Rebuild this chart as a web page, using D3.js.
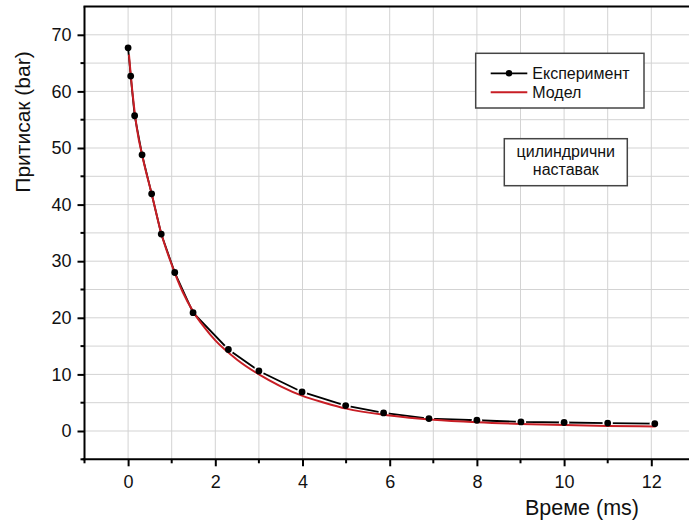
<!doctype html>
<html lang="sr">
<head>
  <meta charset="utf-8">
  <title>Притисак</title>
  <script src="https://cdn.jsdelivr.net/npm/d3@7"></script>
  <style>
    html, body { margin: 0; padding: 0; background: #fff; }
    svg { display: block; }
    text { font-family: "Liberation Sans", Arial, sans-serif; fill: #111; }
    .grid line { stroke: #d3d3d3; stroke-width: 1px; }
    .axis path, .axis line { stroke: #000; }
  </style>
</head>
<body>
<div id="chart"></div>
<script>
// measured data (time in ms, pressure in bar)
var expTime  = [0, 0.06, 0.15, 0.32, 0.54, 0.76, 1.07, 1.49, 2.3, 3.0, 3.99, 4.99, 5.86, 6.9, 8.0, 9.01, 10.0, 11.0, 12.08];
var expPress = [67.7, 62.7, 55.7, 48.8, 41.9, 34.8, 28.0, 20.9, 14.4, 10.6, 6.9, 4.5, 3.2, 2.2, 1.9, 1.6, 1.5, 1.4, 1.3];

// model curve
var modelTime  = [0.02, 0.1, 0.2, 0.35, 0.55, 0.75, 1.0, 1.25, 1.5, 1.75, 2.0, 2.5, 3.0, 3.5, 4.0, 4.5, 5.0, 6.0, 7.0, 8.0, 9.0, 10.0, 11.0, 12.1];
var modelPress = [66.5, 59.8, 53.5, 47.8, 41.6, 35.2, 29.4, 24.6, 21.0, 18.3, 16.0, 12.6, 10.0, 7.9, 6.2, 5.0, 3.95, 2.75, 2.0, 1.55, 1.25, 1.05, 0.9, 0.8];

var xMajor = [0, 2, 4, 6, 8, 10, 12];
var xMinor = [-1, 1, 3, 5, 7, 9, 11, 13];
var yMajor = [0, 10, 20, 30, 40, 50, 60, 70];
var yMinor = [-5, 5, 15, 25, 35, 45, 55, 65];

var seriesNames = ["Експеримент", "Модел"];
var noteLines = ["цилиндрични", "наставак"];
var xTitle = "Време (ms)";
var yTitle = "Притисак (bar)";

var width = 689, height = 522;
// note: "top" is window.top, so use other names
var plotLeft = 84.5, plotTop = 6.5, plotBottom = 459.3;

var x = d3.scaleLinear().domain([-1, 13]).range([plotLeft, plotLeft + 14 * 43.6]);
var y = d3.scaleLinear().domain([-5, 75]).range([plotBottom, plotTop]);

var svg = d3.select("#chart").append("svg")
  .attr("width", width)
  .attr("height", height);

// grid
var grid = svg.append("g").attr("class", "grid");
grid.selectAll("line.gx")
  .data(xMajor.concat(xMinor).filter(function(d){ return d > -1; }))
  .enter().append("line")
  .attr("x1", function(d){ return x(d); })
  .attr("x2", function(d){ return x(d); })
  .attr("y1", plotTop)
  .attr("y2", plotBottom);
grid.selectAll("line.gy")
  .data(yMajor.concat(yMinor).filter(function(d){ return d > -5; }))
  .enter().append("line")
  .attr("x1", plotLeft)
  .attr("x2", width)
  .attr("y1", function(d){ return y(d); })
  .attr("y2", function(d){ return y(d); });

// series
var expData = expTime.map(function(t, i){ return [t, expPress[i]]; });
var modelData = modelTime.map(function(t, i){ return [t, modelPress[i]]; });

var straight = d3.line()
  .x(function(d){ return x(d[0]); })
  .y(function(d){ return y(d[1]); });
var smooth = d3.line()
  .curve(d3.curveMonotoneX)
  .x(function(d){ return x(d[0]); })
  .y(function(d){ return y(d[1]); });

svg.append("path")
  .datum(expData)
  .attr("fill", "none")
  .attr("stroke", "#000")
  .attr("stroke-width", 1.8)
  .attr("d", straight);

// white gap round each symbol, like origin does
svg.selectAll("circle.gap")
  .data(expData.slice(8))
  .enter().append("circle")
  .attr("class", "gap")
  .attr("cx", function(d){ return x(d[0]); })
  .attr("cy", function(d){ return y(d[1]); })
  .attr("r", 5.2)
  .attr("fill", "#fff");

svg.append("path")
  .datum(modelData)
  .attr("fill", "none")
  .attr("stroke", "#c81e25")
  .attr("stroke-width", 2)
  .attr("d", smooth);

svg.selectAll("circle.pt")
  .data(expData)
  .enter().append("circle")
  .attr("class", "pt")
  .attr("cx", function(d){ return x(d[0]); })
  .attr("cy", function(d){ return y(d[1]); })
  .attr("r", 3.4)
  .attr("fill", "#000");

// axes
var xAxis = svg.append("g")
  .attr("class", "axis")
  .attr("transform", "translate(0," + plotBottom + ")")
  .call(d3.axisBottom(x).tickValues(xMajor).tickSize(7).tickPadding(9).tickSizeOuter(0));
xAxis.attr("font-size", null).attr("font-family", null);
xAxis.select(".domain").attr("stroke-width", 2).attr("d", "M" + (plotLeft - 2) + ",0H" + width);
xAxis.selectAll(".tick line").attr("stroke-width", 2);
xAxis.selectAll(".tick text").attr("fill", "#111").style("font-size", "18px");
xAxis.selectAll("line.minor")
  .data(xMinor)
  .enter().append("line")
  .attr("class", "minor")
  .attr("x1", function(d){ return x(d); })
  .attr("x2", function(d){ return x(d); })
  .attr("y1", 0).attr("y2", 4)
  .attr("stroke", "#000").attr("stroke-width", 2);

var yAxis = svg.append("g")
  .attr("class", "axis")
  .attr("transform", "translate(" + plotLeft + ",0)")
  .call(d3.axisLeft(y).tickValues(yMajor).tickSize(7).tickPadding(6).tickSizeOuter(0));
yAxis.attr("font-size", null).attr("font-family", null);
yAxis.select(".domain").attr("stroke-width", 2).attr("d", "M0," + plotTop + "V" + (plotBottom + 1));
yAxis.selectAll(".tick line").attr("stroke-width", 2);
yAxis.selectAll(".tick text").attr("fill", "#111").style("font-size", "18px");
yAxis.selectAll("line.minor")
  .data(yMinor)
  .enter().append("line")
  .attr("class", "minor")
  .attr("y1", function(d){ return y(d); })
  .attr("y2", function(d){ return y(d); })
  .attr("x1", 0).attr("x2", -4)
  .attr("stroke", "#000").attr("stroke-width", 2);

// top frame line
svg.append("line")
  .attr("x1", plotLeft - 1).attr("x2", width)
  .attr("y1", plotTop).attr("y2", plotTop)
  .attr("stroke", "#000").attr("stroke-width", 2);

// axis titles
svg.append("text")
  .attr("x", 582)
  .attr("y", 515)
  .attr("text-anchor", "middle")
  .style("font-size", "21.5px")
  .text(xTitle);

svg.append("text")
  .attr("transform", "translate(30,122) rotate(-90)")
  .attr("text-anchor", "middle")
  .style("font-size", "21px")
  .text(yTitle);

// legend
var legend = svg.append("g");
legend.append("rect")
  .attr("x", 475.7).attr("y", 53.3)
  .attr("width", 168.3).attr("height", 54.7)
  .attr("fill", "#fff")
  .attr("stroke", "#444").attr("stroke-width", 1.5);
var legendColors = ["#000", "#c81e25"];
var legendRows = legend.selectAll("g.row")
  .data(seriesNames)
  .enter().append("g")
  .attr("class", "row")
  .attr("transform", function(d, i){ return "translate(0," + (73.3 + i * 19) + ")"; });
legendRows.append("line")
  .attr("x1", 490.7).attr("x2", 527.3)
  .attr("y1", 0).attr("y2", 0)
  .attr("stroke", function(d, i){ return legendColors[i]; })
  .attr("stroke-width", function(d, i){ return i === 0 ? 1.8 : 2; });
legendRows.filter(function(d, i){ return i === 0; })
  .append("circle")
  .attr("cx", 509).attr("cy", 0).attr("r", 3.2).attr("fill", "#000");
legendRows.append("text")
  .attr("x", 532.3)
  .attr("y", 5.6)
  .style("font-size", "16px")
  .text(function(d){ return d; });

// note box
var note = svg.append("g");
note.append("rect")
  .attr("x", 504.3).attr("y", 138.7)
  .attr("width", 123).attr("height", 47)
  .attr("fill", "#fff")
  .attr("stroke", "#444").attr("stroke-width", 1.5);
note.selectAll("text")
  .data(noteLines)
  .enter().append("text")
  .attr("x", 565.8)
  .attr("y", function(d, i){ return 157 + i * 17.5; })
  .attr("text-anchor", "middle")
  .style("font-size", "16px")
  .text(function(d){ return d; });
</script>
</body>
</html>
